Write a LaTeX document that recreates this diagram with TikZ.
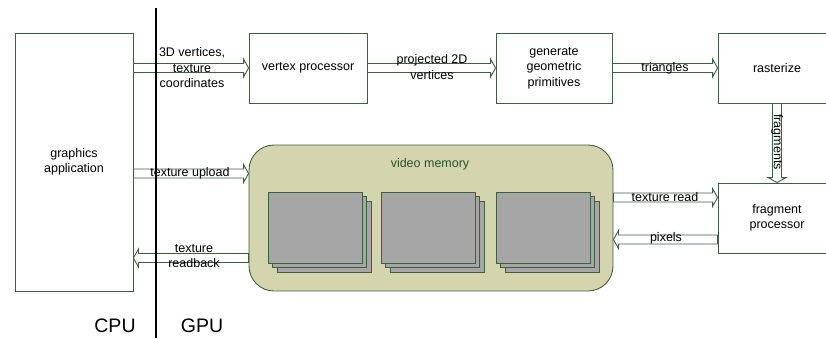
\documentclass[tikz,border=0pt]{standalone}
\usepackage{fontspec}
\setmainfont{Liberation Sans}
\usetikzlibrary{calc}

\definecolor{edgegreen}{HTML}{3E6040}
\definecolor{memfill}{HTML}{D4D4AE}
\definecolor{memtext}{HTML}{2F5030}
\definecolor{texgray}{HTML}{A6A6A6}

\tikzset{
  stage/.style={draw=edgegreen, line width=0.9pt, fill=white, align=center,
    inner sep=0pt, font=\fontsize{12.5}{15.5}\selectfont},
  hollow/.style={draw=edgegreen, line width=0.9pt, fill=white, line join=miter},
  lbl/.style={align=center, inner sep=0pt, font=\fontsize{12.5}{15.5}\selectfont},
  texsheet/.style={draw=edgegreen, line width=0.9pt, fill=texgray},
  side/.style={font=\fontsize{19.5}{22}\selectfont, inner sep=0pt}
}

% hollow block arrow from #1 to #2 (any direction)
\newcommand\hollowarrow[2]{%
  \path[hollow] let \p1=#1, \p2=#2,
      \n1={atan2(\y2-\y1,\x2-\x1)}, \n2={veclen(\x2-\x1,\y2-\y1)} in
    [shift={(\p1)}, rotate=\n1]
    (0pt,-4.5pt) -- (\n2*1pt-5pt,-4.5pt) -- (\n2*1pt-5pt,-9pt) -- (\n2*1pt,0pt)
    -- (\n2*1pt-5pt,9pt) -- (\n2*1pt-5pt,4.5pt) -- (0pt,4.5pt) -- cycle;
}

% three stacked texture sheets with top-left corner at (#1,#2)
\newcommand\texstack[2]{%
  \draw[texsheet] (#1+9,#2+9) rectangle ++(94,71);
  \draw[texsheet] (#1+4.5,#2+4.5) rectangle ++(94,71);
  \draw[texsheet] (#1,#2) rectangle ++(94,71);
}

\begin{document}
\begin{tikzpicture}[x=1pt, y=-1pt]
  \useasboundingbox (0,0) rectangle (826,338);
  \clip (0,0) rectangle (826,338);

  % processing stages
  \node[stage, minimum width=118pt, minimum height=258pt] (app) at (74,162) {graphics\\application};
  \node[stage, minimum width=118pt, minimum height=70pt] (vp) at (308,68) {vertex processor};
  \node[stage, minimum width=116pt, minimum height=70pt] (ggp) at (554,68) {generate\\geometric\\primitives};
  \node[stage, minimum width=118pt, minimum height=70pt] (rast) at (777,68) {rasterize};
  \node[stage, minimum width=118pt, minimum height=70pt] (frag) at (777,218) {fragment\\processor};

  % video memory
  \node[draw=edgegreen, line width=0.9pt, fill=memfill, rounded corners=25pt,
        minimum width=364pt, minimum height=146pt, inner sep=0pt] (vm) at (431,218) {};
  \node[lbl, text=memtext] (vmlabel) at (430,164) {video memory};
  \texstack{268}{192}
  \texstack{381}{192}
  \texstack{496}{192}

  % rows of the memory transfers
  \coordinate (up) at (0,173.5);
  \coordinate (rb) at (0,258);
  \coordinate (tr) at (0,197.5);
  \coordinate (px) at (0,239.5);

  % arrows
  \hollowarrow{(app.east |- vp.west)}{(vp.west)}
  \hollowarrow{(vp.east)}{(ggp.west)}
  \hollowarrow{(ggp.east)}{(rast.west)}
  \hollowarrow{(rast.south)}{(frag.north)}
  \hollowarrow{(app.east |- up)}{(vm.west |- up)}
  \hollowarrow{(vm.west |- rb)}{(app.east |- rb)}
  \hollowarrow{(vm.east |- tr)}{(frag.west |- tr)}
  \hollowarrow{(frag.west |- px)}{(vm.east |- px)}

  % arrow labels
  \node[lbl] (l1) at (192,68) {3D vertices,\\texture\\coordinates};
  \node[lbl] (l2) at (432,67) {projected 2D\\vertices};
  \node[lbl] (l3) at (665,68) {triangles};
  \node[lbl, rotate=-90] (l4) at (777,142) {fragments};
  \node[lbl] (l5) at (190,173) {texture upload};
  \node[lbl] (l6) at (194,256) {texture\\readback};
  \node[lbl] (l7) at (665,197) {texture read};
  \node[lbl] (l8) at (666,238) {pixels};

  % CPU / GPU divider
  \coordinate (divtop) at (156,8);
  \coordinate (divbot) at (156,338);
  \draw[line width=2pt] (divtop) -- (divbot);
  \node[side] (cpu) at (115,326) {CPU};
  \node[side] (gpu) at (202,326) {GPU};
\end{tikzpicture}
\end{document}
